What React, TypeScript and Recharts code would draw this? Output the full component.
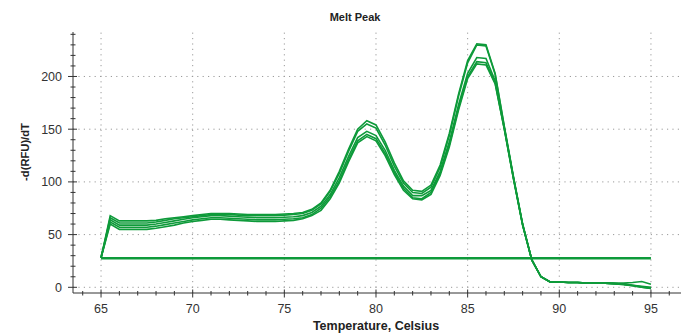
import React from 'react';
import { LineChart, Line, XAxis, YAxis, ReferenceLine } from 'recharts';

const temps = [65,65.5,66,66.5,67,67.5,68,68.5,69,69.5,70,70.5,71,71.5,72,72.5,73,73.5,74,74.5,75,75.5,76,76.5,77,77.5,78,78.5,79,79.5,80,80.5,81,81.5,82,82.5,83,83.5,84,84.5,85,85.5,86,86.5,87,87.5,88,88.5,89,89.5,90,90.5,91,91.5,92,92.5,93,93.5,94,94.5,95];

const curveA = [28,68,63,63,63,63,63.5,65,66,67,68,69,70,70,70,69.5,69,69,69,69,69.5,70,71,74,80,92,110,131,150,158,154,138,118,101,92,91,97,116,146,183,215,231,230,203,153,105,60,26,10,5,5,4.5,4.5,4,4,4,4,4,4.5,5.5,3];
const curveB = [28,66,61,61,61,61,62,63.5,65,66,67,68,69,69.5,69,68.5,68,68,68,68,68.5,69,70,73,79,91,108,129,148,155,151,135,115,99,90,89,95,114,144,181,213,230,229,202,152,104,60,26,10,5,5,4.5,4.5,4,4,4,3.5,3,2,1,0];
const curveC = [28,64,59,59,59,59,60,61.5,63,64.5,66,67,68,68,67.5,67,66.5,66,66,66,66.5,67,68,71,77,88,104,124,142,148,144,130,111,96,87,87,92,110,138,173,203,218,217,196,151,104,59,26,10,5,5,4.5,4.5,4,4,4,3.5,3,2,0.5,-0.5];
const curveD = [28,62,57,57,57,57,58,59.5,61,62.5,64,65,66,66,65.5,65,64.5,64,64,64,64.5,65,66,69,75,86,101,121,139,145,141,127,109,94,85,84,90,108,135,170,200,214,213,194,150,103,59,26,10,5,5,4.5,4.5,4,4,4,3.5,3,1.5,0,-1];
const curveE = [28,60,55,55,55,55,56,57.5,59,61,62.5,63.5,64.5,64.5,64,63.5,63,62.5,62.5,62.5,63,63.5,65,68,73,84,99,119,137,143,139,125,107,92,84,83,88,106,133,168,198,212,211,193,150,103,59,26,10,5,5,4.5,4.5,4,4,4,3.5,2.5,1.5,0,-1];
const baselineValue = 27.5;

const xMajorTicks = [65, 70, 75, 80, 85, 90, 95];
const yMajorTicks = [0, 50, 100, 150, 200];
const xAllTicks = Array.from({ length: 33 }, (_, i) => 64 + i);
const yAllTicks = Array.from({ length: 25 }, (_, i) => i * 10);

const seriesKeys = ['a', 'b', 'c', 'd', 'e'];
const seriesArrays = [curveA, curveB, curveC, curveD, curveE];

const data = temps.map((t, i) => {
  const row: any = { t, base: baselineValue };
  seriesKeys.forEach((k, j) => { row[k] = seriesArrays[j][i]; });
  return row;
});

const GREEN = '#0e9a3a';
const AXIS = '#333';
const FONT = '"Liberation Sans", Arial, sans-serif';

const BottomTick = (props: any) => {
  const { x, y, payload } = props;
  const v = payload.value;
  const major = xMajorTicks.includes(v);
  return (
    <g>
      <line x1={x} x2={x} y1={y - (major ? 3.5 : 2)} y2={y + (major ? 4.5 : 2.5)} stroke={AXIS} strokeWidth={1} />
      {major && (
        <text x={x} y={y + 20} textAnchor="middle" fontSize={12.5} fill="#333" fontFamily={FONT}>{v}</text>
      )}
    </g>
  );
};

const TopTick = (props: any) => {
  const { x, y, payload } = props;
  const major = xMajorTicks.includes(payload.value);
  return <line x1={x} x2={x} y1={y - (major ? 3 : 1.5)} y2={y + (major ? 4.5 : 3)} stroke={AXIS} strokeWidth={1} />;
};

const LeftTick = (props: any) => {
  const { x, y, payload } = props;
  const v = payload.value;
  const major = yMajorTicks.includes(v);
  return (
    <g>
      <line x1={x - (major ? 5 : 2.5)} x2={x + (major ? 4 : 2.5)} y1={y} y2={y} stroke={AXIS} strokeWidth={1} />
      {major && (
        <text x={x - 11} y={y} dy="0.36em" textAnchor="end" fontSize={12.5} fill="#333" fontFamily={FONT}>{v}</text>
      )}
    </g>
  );
};

const RightTick = (props: any) => {
  const { x, y, payload } = props;
  const major = yMajorTicks.includes(payload.value);
  return <line x1={x - (major ? 4.5 : 3)} x2={x + (major ? 3 : 1.5)} y1={y} y2={y} stroke={AXIS} strokeWidth={1} />;
};

const X_DOMAIN: [number, number] = [63.47, 96.64];
const Y_DOMAIN: [number, number] = [-5.4, 242.2];

export default function App() {
  return (
    <div style={{ position: 'absolute', left: 0, top: 0, width: 686, height: 333, background: '#fff', fontFamily: FONT }}>
      <LineChart width={686} height={333} data={data} margin={{ top: 32, right: 5, left: 0, bottom: 0 }}>
        <XAxis dataKey="t" type="number" domain={X_DOMAIN} allowDataOverflow ticks={xAllTicks} interval={0}
          tickSize={0} tickMargin={0} tickLine={false} tick={<BottomTick />} axisLine={{ stroke: AXIS }} height={40} />
        <XAxis xAxisId="top" orientation="top" dataKey="t" type="number" domain={X_DOMAIN} allowDataOverflow ticks={xAllTicks} interval={0}
          tickSize={0} tickMargin={0} tickLine={false} tick={<TopTick />} axisLine={{ stroke: AXIS }} height={0} />
        <YAxis type="number" domain={Y_DOMAIN} allowDataOverflow ticks={yAllTicks} interval={0}
          tickSize={0} tickMargin={0} tickLine={false} tick={<LeftTick />} axisLine={{ stroke: AXIS }} width={73} />
        <YAxis yAxisId="right" orientation="right" type="number" domain={Y_DOMAIN} allowDataOverflow ticks={yAllTicks} interval={0}
          tickSize={0} tickMargin={0} tickLine={false} tick={<RightTick />} axisLine={{ stroke: AXIS }} width={0} />
        {xMajorTicks.map((v) => (
          <ReferenceLine key={'gx' + v} x={v} stroke="#9a9a9a" strokeDasharray="1.2 4.2" strokeWidth={1} />
        ))}
        {yMajorTicks.map((v) => (
          <ReferenceLine key={'gy' + v} y={v} stroke="#9a9a9a" strokeDasharray="1.2 4.2" strokeWidth={1} />
        ))}
        <Line dataKey="base" type="linear" stroke={GREEN} strokeWidth={2.5} dot={false} isAnimationActive={false} />
        {seriesKeys.map((k) => (
          <Line key={k} dataKey={k} type="linear" stroke={GREEN} strokeWidth={1.6} dot={false} isAnimationActive={false} />
        ))}
      </LineChart>
      <svg width={686} height={333} style={{ position: 'absolute', left: 0, top: 0, pointerEvents: 'none' }}>
        <text x={355} y={21} textAnchor="middle" fontSize={11} fontWeight="bold" fill="#222" fontFamily={FONT}>Melt Peak</text>
        <text x={29} y={152} transform="rotate(-90 29 152)" textAnchor="middle" fontSize={11.2} fontWeight="bold" fill="#222" fontFamily={FONT}>-d(RFU)/dT</text>
        <text x={376} y={329.5} textAnchor="middle" fontSize={12.5} fontWeight="bold" fill="#222" fontFamily={FONT}>Temperature, Celsius</text>
      </svg>
    </div>
  );
}
